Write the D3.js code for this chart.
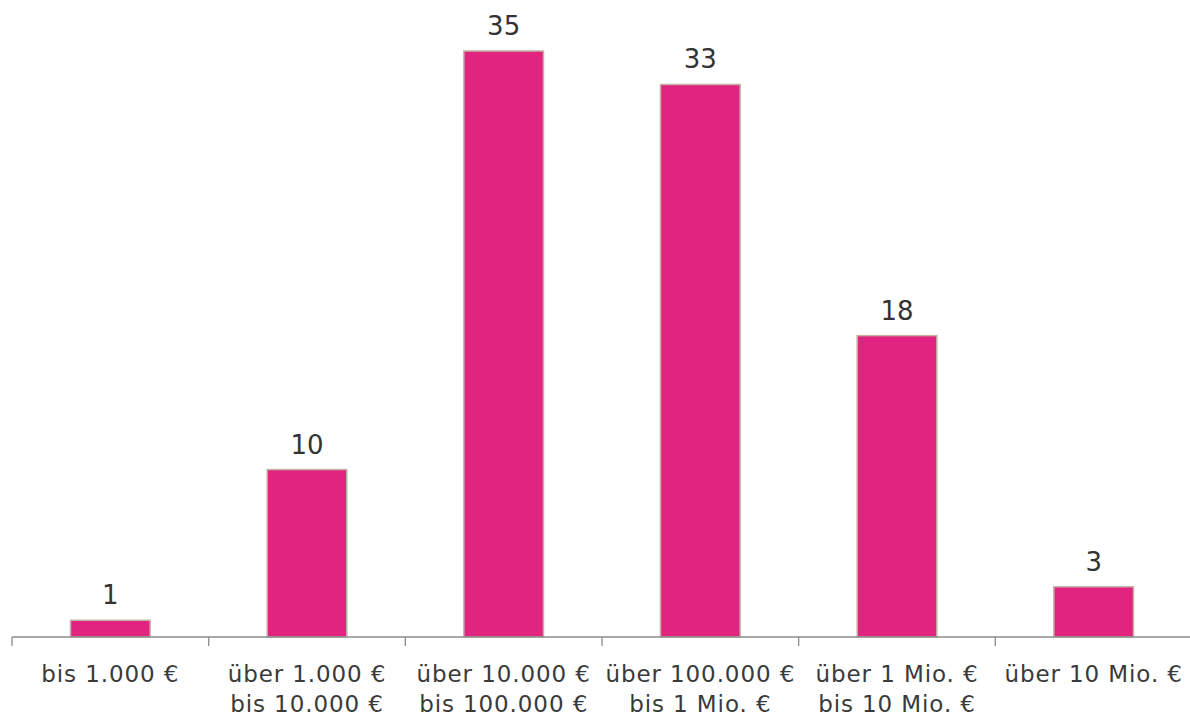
<!DOCTYPE html>
<html>
<head>
<meta charset="utf-8">
<script src="https://cdn.jsdelivr.net/npm/d3@7"></script>
<style>
  html, body { margin: 0; padding: 0; background: #fff; }
  svg text { font-family: "DejaVu Sans", sans-serif; }
</style>
</head>
<body>
<div id="chart"></div>
<script>
const categories = [
  ["bis 1.000 €"],
  ["über 1.000 €", "bis 10.000 €"],
  ["über 10.000 €", "bis 100.000 €"],
  ["über 100.000 €", "bis 1 Mio. €"],
  ["über 1 Mio. €", "bis 10 Mio. €"],
  ["über 10 Mio. €"]
];
const values = [1, 10, 35, 33, 18, 3];

const width = 1190, height = 717;
const m = { top: 51, right: -2, bottom: 80, left: 12 };

const svg = d3.select("#chart").append("svg")
  .attr("width", width)
  .attr("height", height);

const keys = categories.map((c, i) => i);
const x = d3.scaleBand()
  .domain(keys)
  .range([m.left, width - m.right])
  .padding(0);

const y = d3.scaleLinear()
  .domain([0, d3.max(values)])
  .range([height - m.bottom, m.top]);

const barW = x.bandwidth() * 0.405;

// bars
svg.selectAll("rect.bar")
  .data(values)
  .enter()
  .append("rect")
  .attr("class", "bar")
  .attr("x", (d, i) => x(i) + (x.bandwidth() - barW) / 2)
  .attr("width", barW)
  .attr("y", d => y(d))
  .attr("height", d => y(0) - y(d))
  .attr("fill", "#e0247f")
  .attr("stroke", "#c4b2a6")
  .attr("stroke-width", 1.5);

// value labels
svg.selectAll("text.val")
  .data(values)
  .enter()
  .append("text")
  .attr("class", "val")
  .attr("x", (d, i) => x(i) + x.bandwidth() / 2)
  .attr("y", d => y(d) - 16)
  .attr("text-anchor", "middle")
  .attr("font-family", "DejaVu Sans Condensed, DejaVu Sans, sans-serif")
  .attr("font-size", 26)
  .attr("fill", "#333")
  .text(d => d);

// axis line + ticks at band edges
const base = y(0);
svg.append("line")
  .attr("x1", m.left).attr("x2", width)
  .attr("y1", base).attr("y2", base)
  .attr("stroke", "#8c8c8c")
  .attr("stroke-width", 1.3);

const edges = keys.map(k => x(k)).concat([x(keys.length - 1) + x.bandwidth()]);
svg.selectAll("line.tick")
  .data(edges)
  .enter()
  .append("line")
  .attr("class", "tick")
  .attr("x1", d => d).attr("x2", d => d)
  .attr("y1", base).attr("y2", base + 9)
  .attr("stroke", "#8c8c8c")
  .attr("stroke-width", 1.3);

// category labels
const lab = svg.selectAll("text.cat")
  .data(categories)
  .enter()
  .append("text")
  .attr("class", "cat")
  .attr("text-anchor", "middle")
  .attr("font-size", 23)
  .attr("letter-spacing", 0.9)
  .attr("fill", "#3a3a3a");

lab.selectAll("tspan")
  .data((d, i) => d.map(t => ({ t, i })))
  .enter()
  .append("tspan")
  .attr("x", d => x(d.i) + x.bandwidth() / 2)
  .attr("y", (d, j) => base + 45 + j * 30)
  .text(d => d.t);
</script>
</body>
</html>
